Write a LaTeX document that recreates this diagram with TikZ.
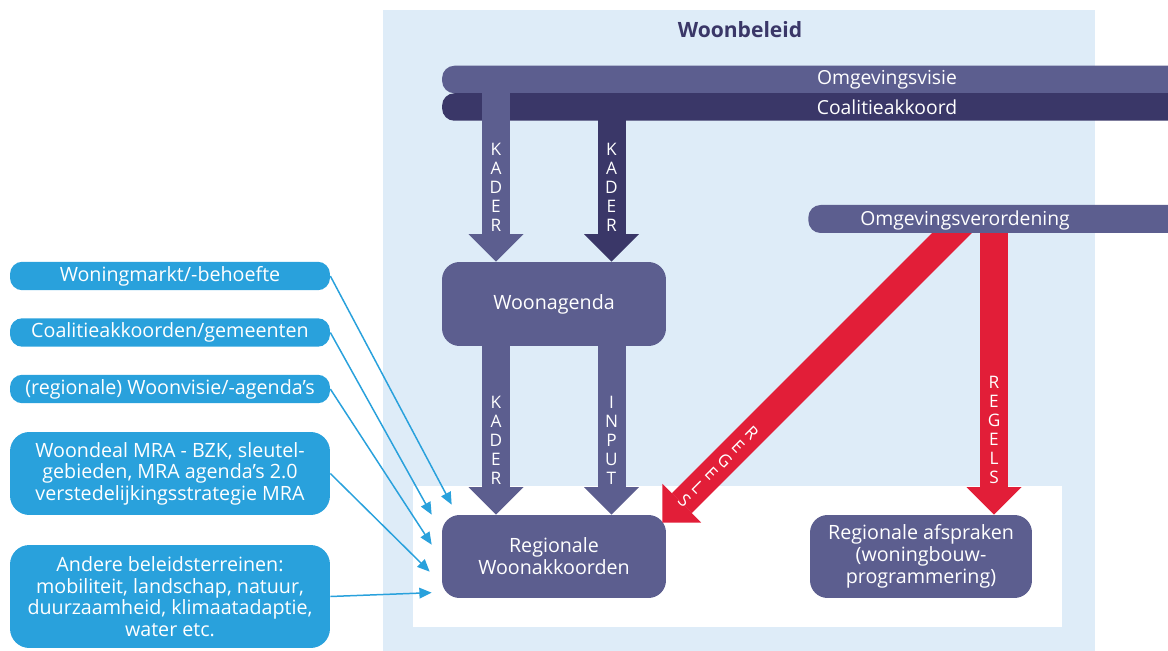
\documentclass[tikz,border=0pt]{standalone}
\usepackage{fontspec}
\setmainfont{Open Sans}
\usetikzlibrary{arrows.meta}

\definecolor{panelblue}{RGB}{222,236,248}
\definecolor{visie}{RGB}{92,94,143}
\definecolor{coal}{RGB}{58,55,104}
\definecolor{regelred}{RGB}{226,30,56}
\definecolor{bronblue}{RGB}{41,161,220}

\tikzset{
    box/.style={fill=visie, rounded corners=10pt, text=white, align=center, inner sep=0pt,
        minimum width=4.48cm, minimum height=1.66cm, font=\fontsize{11.2}{12.5}\selectfont},
    bron/.style={fill=bronblue, rounded corners=7pt, text=white, align=center, inner sep=0pt,
        minimum width=6.4cm, minimum height=0.57cm, font=\fontsize{11.2}{12.3}\selectfont},
    bar/.style={fill=#1, rounded corners=7pt, inner sep=0pt, minimum height=0.55cm,
        text=white, font=\fontsize{11}{13}\selectfont},
    pijl/.style={draw=#1, line width=0.56cm,
        -{Triangle[width=1.1cm, length=0.55cm, line width=0pt]}},
    letters/.style={text=white, align=center, inner sep=0pt, font=\fontsize{9.8}{10.8}\selectfont},
    toe/.style={draw=bronblue, line width=0.85pt, -{Triangle[width=6pt, length=7pt]}}
}

\begin{document}
\begin{tikzpicture}[x=0.02cm, y=-0.02cm]
                \useasboundingbox (0,0) rectangle (1168,651);
                \fill[panelblue] (383,10) rectangle (1095,651);
                \fill[white] (413,486) rectangle (1062,627);
                \node[text=coal, font=\bfseries\fontsize{12}{14}\selectfont] (titel) at (740,30) {Woonbeleid};

                \node[box, minimum height=1.68cm] (agenda) at (554,304) {Woonagenda};
                \node[box] (regio) at (554,556.5) {Regionale\\Woonakkoorden};
                \node[box, minimum width=4.44cm] (afspraken) at (921,556.5) {Regionale afspraken\\(woningbouw-\\programmering)};

                \coordinate (rd) at (966,219);
                \coordinate (rv) at (994,219);
                \draw[pijl=regelred] (rd) -- ([shift={(-4,8)}]regio.north east);
                \draw[pijl=regelred] (rv) -- (rv |- afspraken.north);

                \node[bar=visie, minimum width=7.5cm, anchor=west, minimum height=0.56cm] (verord) at (808,219) {};
                \node[text=white, font=\fontsize{11}{13}\selectfont] (verordtekst) at (965,220) {Omgevingsverordening};
                \node[bar=visie, minimum width=17.8cm] (visie) at (887,79.5) {Omgevingsvisie};
                \node[bar=coal, minimum width=17.8cm] (coal) at (887,107) {Coalitieakkoord};

                \coordinate (k1) at (496,0);
                \coordinate (k2) at (611.5,0);
                \draw[pijl=visie] (k1 |- visie.center) -- (k1 |- agenda.north);
                \draw[pijl=coal] (k2 |- coal.center) -- (k2 |- agenda.north);
                \draw[pijl=visie] (k1 |- agenda.south) -- (k1 |- regio.north);
                \draw[pijl=visie] (k2 |- agenda.south) -- (k2 |- regio.north);

                \node[letters] (kader1) at (496,187) {K\\A\\D\\E\\R};
                \node[letters] (kader2) at (611.5,187) {K\\A\\D\\E\\R};
                \node[letters] (kader3) at (496,440) {K\\A\\D\\E\\R};
                \node[letters] (input) at (611.5,440) {I\\N\\P\\U\\T};
                \node[letters] (regels) at (994,429.5) {R\\E\\G\\E\\L\\S};
                \node[letters, rotate=-45] (regelsdiag) at (718,467) {R\\E\\G\\E\\L\\S};

                \node[bron] (b1) at (170,276) {Woningmarkt/-behoefte};
                \node[bron] (b2) at (170,332.5) {Coalitieakkoorden/gemeenten};
                \node[bron] (b3) at (170,389) {(regionale) Woonvisie/-agenda’s};
                \node[bron, minimum height=1.66cm, rounded corners=11pt] (b4) at (170,473.5)
                    {Woondeal MRA - BZK, sleutel-\\gebieden, MRA agenda’s 2.0\\verstedelijkingsstrategie MRA};
                \node[bron, minimum height=2.06cm, rounded corners=11pt] (b5) at (170,596.5)
                    {Andere beleidsterreinen:\\mobiliteit, landschap, natuur,\\duurzaamheid, klimaatadaptie,\\water etc.};

                \foreach \i/\dx/\dy in {1/10/-10, 2/-10/0, 3/-10/30, 4/-12/57, 5/-10/78} {
                    \coordinate (in\i) at ([shift={(\dx,\dy)}]regio.north west);
                    \draw[toe] (b\i.east) -- (in\i);
                }
            \end{tikzpicture}
\end{document}
